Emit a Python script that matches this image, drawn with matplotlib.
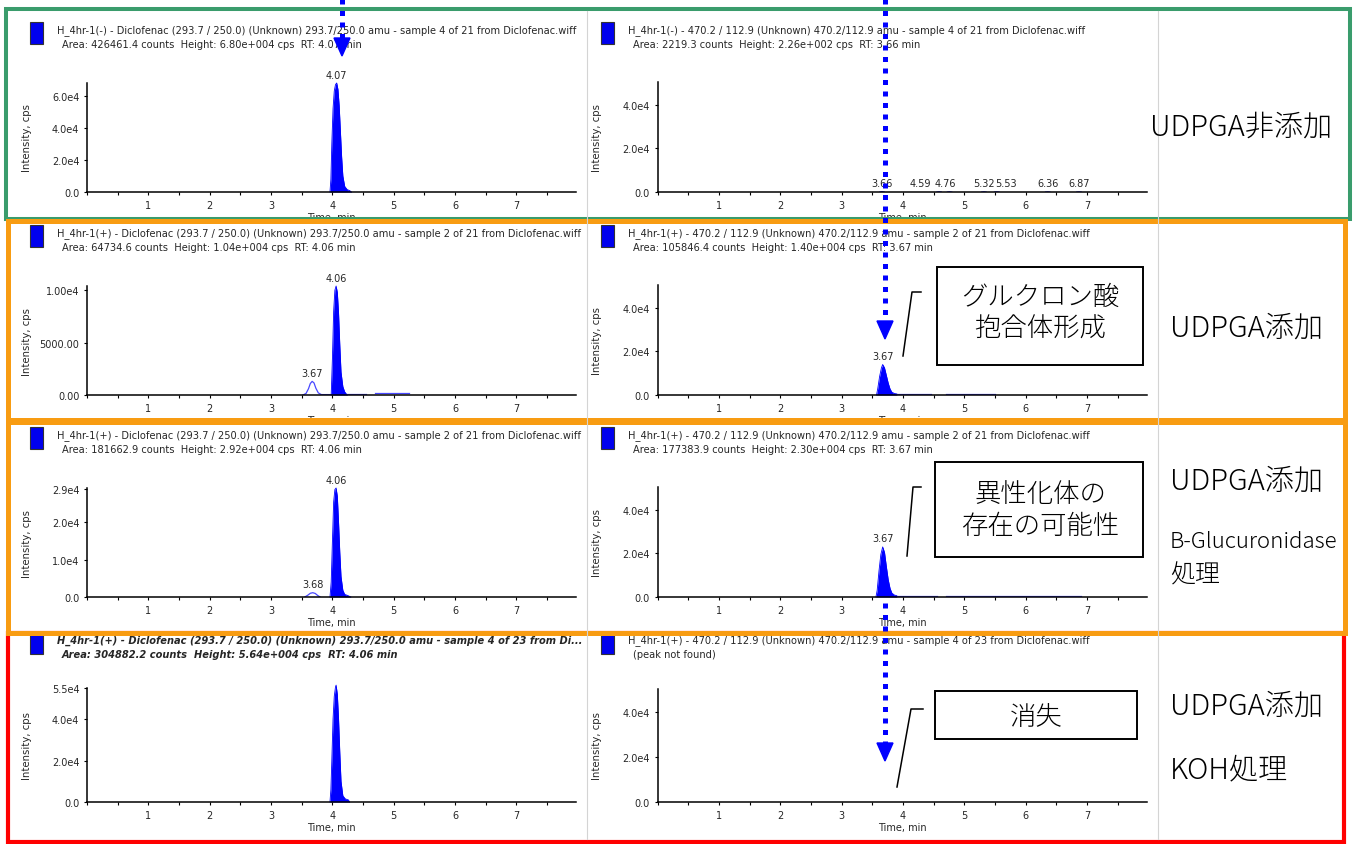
import matplotlib
matplotlib.use("Agg")
import matplotlib.pyplot as plt
from matplotlib.patches import Rectangle, Polygon
from matplotlib.ticker import FixedLocator, MultipleLocator

W, H = 1358, 845

# ---------------- data ----------------
# row 1: UDPGA not added
r1L_t = [3.96, 3.975, 3.99, 4.01, 4.03, 4.05, 4.07, 4.09, 4.11, 4.13, 4.15, 4.17, 4.20, 4.24, 4.28, 4.31]
r1L_y = [0, 8000, 30000, 52000, 63000, 67000, 68000, 64000, 54000, 38000, 22000, 10000, 3500, 1500, 900, 0]
r1R_peaks = [3.66, 4.59, 4.76, 5.32, 5.53, 6.36, 6.87]
r1R_heights = [226, 150, 140, 130, 120, 110, 100]

# row 2: UDPGA added
r2L_t = [3.98, 4.00, 4.02, 4.04, 4.06, 4.08, 4.10, 4.12, 4.14, 4.17, 4.20, 4.24]
r2L_y = [0, 3500, 8000, 10000, 10400, 9800, 7800, 4800, 2200, 800, 300, 0]
r2L_small_t = [3.52, 3.57, 3.61, 3.64, 3.67, 3.70, 3.73, 3.77, 3.82, 3.99]
r2L_small_y = [0, 150, 600, 1100, 1300, 1150, 650, 200, 40, 40]
r2L_tail = [([4.24, 4.55], [120, 120]), ([4.70, 5.25], [150, 150])]
r2R_t = [3.57, 3.59, 3.62, 3.65, 3.67, 3.70, 3.73, 3.76, 3.79, 3.82, 3.86, 3.90]
r2R_y = [0, 3000, 8500, 12500, 14000, 12500, 9000, 5500, 2800, 1300, 700, 500]
r2R_tail = [([3.90, 4.45], [500, 500]), ([4.70, 5.50], [500, 500])]

# row 3: UDPGA added + B-Glucuronidase
r3L_t = [3.96, 3.98, 4.00, 4.02, 4.04, 4.06, 4.08, 4.10, 4.12, 4.14, 4.17, 4.20, 4.25, 4.30]
r3L_y = [0, 4000, 15000, 25500, 28800, 29200, 27000, 20000, 12000, 5500, 1800, 700, 400, 0]
r3L_small_t = [3.55, 3.60, 3.64, 3.68, 3.72, 3.76, 3.80]
r3L_small_y = [0, 500, 1000, 1150, 950, 400, 0]
r3R_t = [3.56, 3.58, 3.61, 3.64, 3.67, 3.70, 3.73, 3.76, 3.79, 3.82, 3.86, 3.90]
r3R_y = [0, 3000, 12000, 19500, 23000, 20500, 14000, 8000, 4000, 1800, 900, 600]
r3R_tail = [([3.90, 4.55], [600, 600]), ([4.70, 6.90], [600, 600])]

# row 4: UDPGA added + KOH
r4L_t = [3.96, 3.975, 3.99, 4.01, 4.03, 4.05, 4.06, 4.08, 4.10, 4.12, 4.14, 4.17, 4.21, 4.26, 4.28]
r4L_y = [0, 6000, 20000, 40000, 51000, 55500, 56400, 52000, 40000, 24000, 10000, 3000, 1500, 1000, 0]

# axis ticks
left_yticks = {
    1: ([0, 20000, 40000, 60000], ["0.0", "2.0e4", "4.0e4", "6.0e4"]),
    2: ([0, 5000, 10000], ["0.00", "5000.00", "1.00e4"]),
    3: ([0, 10000, 20000, 29000], ["0.0", "1.0e4", "2.0e4", "2.9e4"]),
    4: ([0, 20000, 40000, 55000], ["0.0", "2.0e4", "4.0e4", "5.5e4"]),
}
right_yticks = ([0, 20000, 40000], ["0.0", "2.0e4", "4.0e4"])
left_ymax = {1: 68000, 2: 10400, 3: 29200, 4: 55000}
right_ymax = 50500

titles = {
    (1, "L"): ("H_4hr-1(-) - Diclofenac (293.7 / 250.0) (Unknown) 293.7/250.0 amu - sample 4 of 21 from Diclofenac.wiff",
               "Area: 426461.4 counts  Height: 6.80e+004 cps  RT: 4.07 min"),
    (1, "R"): ("H_4hr-1(-) - 470.2 / 112.9 (Unknown) 470.2/112.9 amu - sample 4 of 21 from Diclofenac.wiff",
               "Area: 2219.3 counts  Height: 2.26e+002 cps  RT: 3.66 min"),
    (2, "L"): ("H_4hr-1(+) - Diclofenac (293.7 / 250.0) (Unknown) 293.7/250.0 amu - sample 2 of 21 from Diclofenac.wiff",
               "Area: 64734.6 counts  Height: 1.04e+004 cps  RT: 4.06 min"),
    (2, "R"): ("H_4hr-1(+) - 470.2 / 112.9 (Unknown) 470.2/112.9 amu - sample 2 of 21 from Diclofenac.wiff",
               "Area: 105846.4 counts  Height: 1.40e+004 cps  RT: 3.67 min"),
    (3, "L"): ("H_4hr-1(+) - Diclofenac (293.7 / 250.0) (Unknown) 293.7/250.0 amu - sample 2 of 21 from Diclofenac.wiff",
               "Area: 181662.9 counts  Height: 2.92e+004 cps  RT: 4.06 min"),
    (3, "R"): ("H_4hr-1(+) - 470.2 / 112.9 (Unknown) 470.2/112.9 amu - sample 2 of 21 from Diclofenac.wiff",
               "Area: 177383.9 counts  Height: 2.30e+004 cps  RT: 3.67 min"),
    (4, "L"): ("H_4hr-1(+) - Diclofenac (293.7 / 250.0) (Unknown) 293.7/250.0 amu - sample 4 of 23 from Di...",
               "Area: 304882.2 counts  Height: 5.64e+004 cps  RT: 4.06 min"),
    (4, "R"): ("H_4hr-1(+) - 470.2 / 112.9 (Unknown) 470.2/112.9 amu - sample 4 of 23 from Diclofenac.wiff",
               "(peak not found)"),
}

row_labels = {
    1: [("UDPGA非添加", 127, 21)],
    2: [("UDPGA添加", 328, 21)],
    3: [("UDPGA添加", 481, 21), ("B-Glucuronidase", 542, 16), ("処理", 575, 18)],
    4: [("UDPGA添加", 706, 21), ("KOH処理", 770, 21)],
}
box_texts = ["グルクロン酸\n抱合体形成", "異性化体の\n存在の可能性", "消失"]

# ---------------- layout (pixels) ----------------
plt.rcParams["font.family"] = ["DejaVu Sans"]
fig = plt.figure(figsize=(W / 100, H / 100), dpi=100)
fig.patch.set_facecolor("white")

BLUE = "#0000ff"
TXT = "#262626"
SMALL = 7.0
CJK = ["Noto Sans CJK JP", "DejaVu Sans"]


def px_ax(x0, y0, x1, y1):
    return fig.add_axes([x0 / W, 1 - y1 / H, (x1 - x0) / W, (y1 - y0) / H])


rows_y = {1: (12, 219), 2: (224, 419), 3: (425, 632), 4: (637, 840)}
base_y = {1: 193, 2: 396, 3: 598, 4: 803}
left_top = {1: 84, 2: 287, 3: 489, 4: 689}
right_top = {1: 83, 2: 286, 3: 488, 4: 690}
col_x = {"L": (10, 587, 87), "R": (587, 1158, 657.5)}
ax_w = 489


def panel(row, col):
    x0, x1, axx = col_x[col]
    y0, y1 = rows_y[row]
    pax = px_ax(x0, y0, x1, y1)
    pax.set_xlim(x0, x1)
    pax.set_ylim(y1, y0)
    pax.axis("off")
    b = base_y[row]
    tx = 57 if col == "L" else 628
    l1, l2 = titles[(row, col)]
    style = dict(fontsize=7.1, color=TXT, va="center", clip_on=True)
    if row == 4 and col == "L":
        style.update(fontweight="bold", fontstyle="italic")
    pax.text(tx, b - 162, l1, **style)
    pax.text(tx + 5, b - 148, l2, **style)
    pax.add_patch(Rectangle((tx - 27, b - 170), 13, 22, facecolor="#0000ee",
                            edgecolor="#333333", lw=0.8))

    top = left_top[row] if col == "L" else right_top[row]
    ax = px_ax(axx, top, axx + ax_w, b)
    ax.set_xlim(0, 7.97)
    if col == "L":
        ax.set_ylim(0, left_ymax[row])
        yt, ytl = left_yticks[row]
    else:
        ax.set_ylim(0, right_ymax)
        yt, ytl = right_yticks
    ax.yaxis.set_major_locator(FixedLocator(yt))
    ax.set_yticklabels(ytl)
    ax.xaxis.set_major_locator(FixedLocator([1, 2, 3, 4, 5, 6, 7]))
    ax.xaxis.set_minor_locator(MultipleLocator(0.5))
    ax.tick_params(which="both", direction="out", labelsize=SMALL, labelcolor=TXT,
                   width=0.8, pad=3)
    ax.tick_params(which="major", length=2.5)
    ax.tick_params(which="minor", length=1.8)
    for s in ("top", "right"):
        ax.spines[s].set_visible(False)
    for s in ("left", "bottom"):
        ax.spines[s].set_linewidth(1.1)
    ax.patch.set_alpha(0)
    ax.set_ylabel("Intensity, cps", fontsize=SMALL + 0.3, color=TXT)
    ax.yaxis.set_label_coords(-55 / ax_w, 0.5)
    ax.set_xlabel("Time, min", fontsize=SMALL, color=TXT, labelpad=1.5)
    return ax


def fill_peak(ax, t, y, label=None):
    ax.fill_between(t, y, color=BLUE, lw=0, clip_on=False)
    ax.plot(t, y, color=BLUE, lw=0.6, clip_on=False)
    if label:
        i = y.index(max(y))
        ax.annotate(label, (t[i], y[i]), xytext=(0, 2.5), textcoords="offset points",
                    ha="center", va="bottom", fontsize=SMALL, color=TXT)


def line_peak(ax, t, y, label=None):
    ax.plot(t, y, color="#4848ff", lw=0.9)
    if label:
        i = y.index(max(y))
        ax.annotate(label, (t[i], y[i]), xytext=(0, 2.5), textcoords="offset points",
                    ha="center", va="bottom", fontsize=SMALL, color=TXT)


# row 1
ax = panel(1, "L")
fill_peak(ax, r1L_t, r1L_y, "4.07")
ax = panel(1, "R")
nudge = {4.59: -19, 4.76: -4, 5.53: 9}
for t, h in zip(r1R_peaks, r1R_heights):
    ax.plot([t - 0.04, t, t + 0.04], [0, h, 0], color=BLUE, lw=0.6)
    ax.annotate(f"{t:.2f}", (t, h), xytext=(nudge.get(t, 0) * 0.72, 2.5),
                textcoords="offset points", ha="center", va="bottom",
                fontsize=SMALL, color=TXT)

# row 2
ax = panel(2, "L")
line_peak(ax, r2L_small_t, r2L_small_y, "3.67")
fill_peak(ax, r2L_t, r2L_y, "4.06")
for t, y in r2L_tail:
    line_peak(ax, t, y)
ax = panel(2, "R")
fill_peak(ax, r2R_t, r2R_y, "3.67")
for t, y in r2R_tail:
    line_peak(ax, t, y)

# row 3
ax = panel(3, "L")
line_peak(ax, r3L_small_t, r3L_small_y, "3.68")
fill_peak(ax, r3L_t, r3L_y, "4.06")
ax = panel(3, "R")
fill_peak(ax, r3R_t, r3R_y, "3.67")
for t, y in r3R_tail:
    line_peak(ax, t, y)

# row 4
ax = panel(4, "L")
fill_peak(ax, r4L_t, r4L_y, "4.06")
ax = panel(4, "R")

# ---------------- overlay: frames, arrows, notes ----------------
ov = fig.add_axes([0, 0, 1, 1])
ov.set_xlim(0, W)
ov.set_ylim(H, 0)
ov.axis("off")
ov.set_zorder(10)
ov.patch.set_alpha(0)

for x in (587, 1158):
    ov.plot([x, x], [12, 840], color="#d4d4d4", lw=0.8)

ov.add_patch(Rectangle((6, 10), 1344, 210, fill=False, edgecolor="#3a9c6c", lw=2.9))
ov.add_patch(Rectangle((8, 634), 1336, 209, fill=False, edgecolor="#ff0000", lw=3.0))
ov.add_patch(Rectangle((8, 221.5), 1337, 199.5, fill=False, edgecolor="#f89c12", lw=3.6))
ov.add_patch(Rectangle((8, 423), 1337, 210.5, fill=False, edgecolor="#f89c12", lw=3.6))


def dotted_arrow(x, ys, tip):
    ov.plot([x, x], [ys, tip - 18], color=BLUE, lw=3.6,
            linestyle=(0, (1, 1.3)), dash_capstyle="butt")
    ov.add_patch(Polygon([(x - 8, tip - 18), (x + 8, tip - 18), (x, tip)],
                         closed=True, color=BLUE))


dotted_arrow(342, 0, 57)
dotted_arrow(885, 0, 340)
dotted_arrow(885, 604, 762)

boxes = [
    ((937, 268, 206, 98), (1040, 313), [(903, 357), (912, 293), (921, 293)]),
    ((935, 463, 208, 95), (1040, 510), [(907, 557), (913, 488), (921, 488)]),
    ((935, 692, 202, 48), (1036, 717), [(897, 788), (911, 710), (923, 710)]),
]
for ((bx, by, bw, bh), (cx, cy), conn), txt in zip(boxes, box_texts):
    ov.add_patch(Rectangle((bx, by), bw, bh, facecolor="white", edgecolor="black", lw=1.4))
    ov.text(cx, cy, txt, ha="center", va="center", fontsize=19, linespacing=1.15,
            family=CJK, fontweight="light", color="black")
    ov.plot([p[0] for p in conn], [p[1] for p in conn], color="black", lw=1.1)

for row, items in row_labels.items():
    for txt, y, fs in items:
        x = 1150 if txt == "UDPGA非添加" else 1170
        ov.text(x, y, txt, ha="left", va="center", fontsize=fs,
                family=CJK, fontweight="light", color="black")

fig.savefig("out.png", dpi=100, facecolor="white")
